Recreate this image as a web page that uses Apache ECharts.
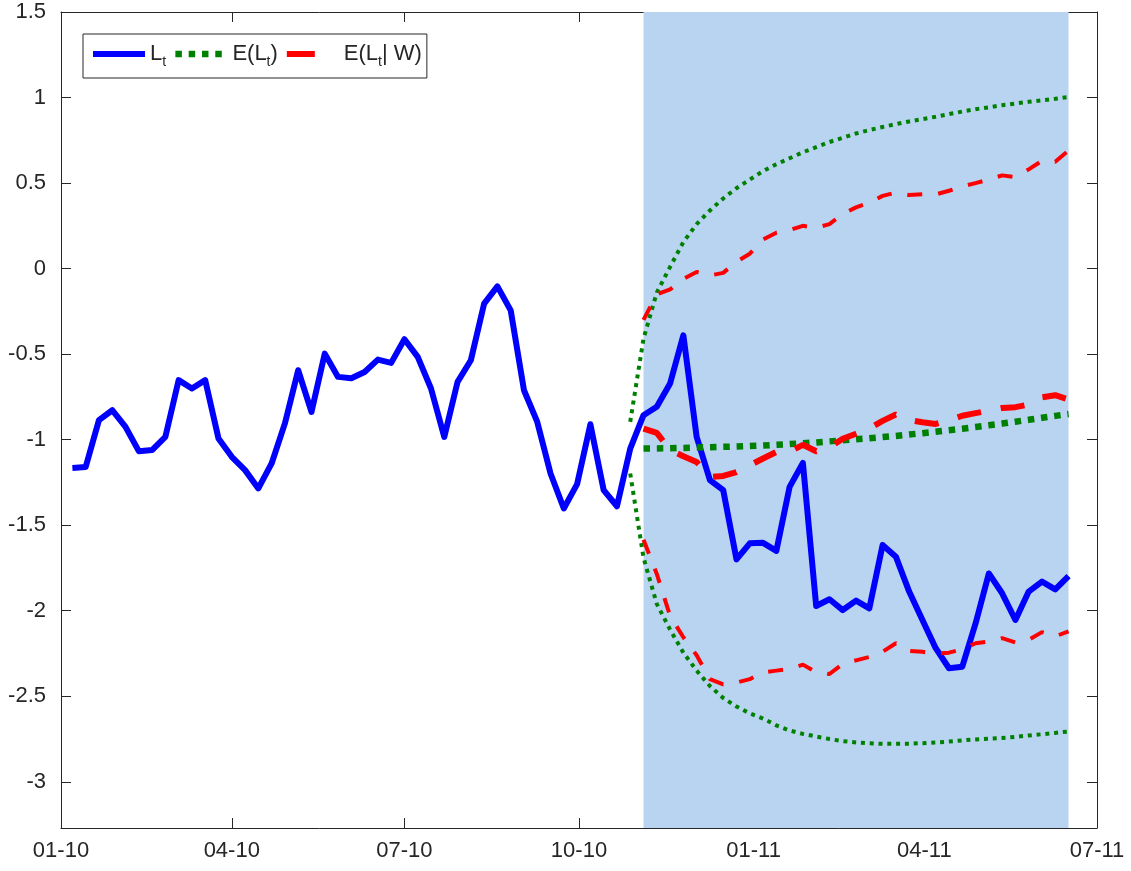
<!DOCTYPE html>
<html>
<head>
<meta charset="utf-8">
<script src="https://cdn.jsdelivr.net/npm/echarts@6/dist/echarts.min.js"></script>
<style>
  html, body { margin: 0; padding: 0; background: #ffffff; }
  #chart { width: 1131px; height: 871px; }
</style>
</head>
<body>
<div id="chart"></div>
<script>
// Weekly observations, first week ending 2010-01-07
const startDate = '2010-01-07';

// Observed series L_t (76 weekly values)
const levels = [
  -1.165, -1.16, -0.886, -0.828, -0.925, -1.067, -1.061, -0.984, -0.652, -0.701,
  -0.652, -0.993, -1.10, -1.178, -1.285, -1.139, -0.905, -0.594, -0.838, -0.497,
  -0.633, -0.641, -0.604, -0.532, -0.551, -0.413, -0.516, -0.701, -0.984, -0.662,
  -0.536, -0.205, -0.104, -0.244, -0.711, -0.896, -1.198, -1.402, -1.26, -0.91,
  -1.295, -1.389, -1.052, -0.857, -0.808, -0.672, -0.39, -0.984, -1.236, -1.295,
  -1.70, -1.606, -1.603, -1.65, -1.276, -1.136, -1.972, -1.933, -1.996, -1.941,
  -1.986, -1.616, -1.684, -1.888, -2.054, -2.219, -2.336, -2.327, -2.074, -1.782,
  -1.898, -2.054, -1.888, -1.83, -1.875, -1.797
];

// Week index where the forecast window begins, and where the E(L_t) bands begin
const forecastStart = 43;
const bandStart = 42;

// E(L_t): unconditional forecast mean (weeks 43..75)
const meanUncond = [
  -1.052, -1.051, -1.050, -1.048, -1.046, -1.044, -1.042, -1.040, -1.037, -1.034,
  -1.030, -1.026, -1.021, -1.016, -1.010, -1.004, -0.998, -0.992, -0.985, -0.978,
  -0.970, -0.962, -0.954, -0.945, -0.936, -0.926, -0.916, -0.906, -0.895, -0.884,
  -0.872, -0.861, -0.850
];
// E(L_t) band, upper and lower (weeks 42..75)
const upperUncond = [
  -0.896, -0.41, -0.14, 0.01, 0.155, 0.26, 0.34, 0.41, 0.47, 0.52,
  0.57, 0.61, 0.645, 0.68, 0.71, 0.74, 0.765, 0.79, 0.81, 0.828,
  0.845, 0.86, 0.874, 0.888, 0.903, 0.918, 0.932, 0.943, 0.955, 0.965,
  0.975, 0.984, 0.993, 1.003
];
const lowerUncond = [
  -1.198, -1.69, -1.96, -2.11, -2.245, -2.35, -2.44, -2.51, -2.56, -2.60,
  -2.63, -2.67, -2.70, -2.72, -2.735, -2.75, -2.762, -2.77, -2.775, -2.778,
  -2.778, -2.777, -2.774, -2.77, -2.765, -2.758, -2.752, -2.748, -2.744, -2.737,
  -2.729, -2.722, -2.714, -2.706
];

// E(L_t | W): conditional forecast mean and band (weeks 43..75)
const meanCond = [
  -0.935, -0.96, -1.06, -1.097, -1.13, -1.218, -1.212, -1.19, -1.15, -1.11,
  -1.072, -1.07, -1.03, -1.068, -1.045, -0.995, -0.965, -0.935, -0.89, -0.853,
  -0.885, -0.898, -0.908, -0.888, -0.86, -0.845, -0.83, -0.815, -0.81, -0.795,
  -0.752, -0.74, -0.765
];
const upperCond = [
  -0.30, -0.15, -0.122, -0.06, -0.02, -0.04, -0.025, 0.04, 0.087, 0.17,
  0.21, 0.225, 0.25, 0.239, 0.26, 0.32, 0.358, 0.385, 0.425, 0.445,
  0.43, 0.434, 0.434, 0.455, 0.48, 0.50, 0.52, 0.545, 0.535, 0.58,
  0.63, 0.625, 0.69
];
const lowerCond = [
  -1.585, -1.785, -2.03, -2.155, -2.26, -2.40, -2.43, -2.42, -2.40, -2.36,
  -2.35, -2.34, -2.315, -2.36, -2.37, -2.31, -2.29, -2.27, -2.24, -2.19,
  -2.235, -2.24, -2.25, -2.245, -2.225, -2.19, -2.18, -2.16, -2.185, -2.17,
  -2.125, -2.15, -2.12
];

// Axis ticks
const xTickDates = ['2010-01-01', '2010-04-01', '2010-07-01', '2010-10-01', '2011-01-01', '2011-04-01', '2011-07-01'];
const xTickLabels = ['01-10', '04-10', '07-10', '10-10', '01-11', '04-11', '07-11'];
const yTicks = [-3, -2.5, -2, -1.5, -1, -0.5, 0, 0.5, 1, 1.5];
const yMin = -3.27, yMax = 1.5;

// ---- build series data ----
const DAY = 86400000;
const toTime = s => { const p = s.split('-').map(Number); return Date.UTC(p[0], p[1] - 1, p[2]); };
const t0 = toTime(startDate);
const weekTime = k => t0 + k * 7 * DAY;
const pairs = (vals, first) => vals.map((v, i) => [weekTime(first + i), v]);

const xTickValues = xTickDates.map(toTime);
const xMin = xTickValues[0], xMax = xTickValues[xTickValues.length - 1];

const FONT = "'Liberation Sans', Arial, Helvetica, sans-serif";
const AX = '#262626';
const FS = 22;

const BLUE = '#0000ff', GREEN = '#008000', RED = '#ff0000';

// line styles shared by the plotted series and their legend samples
const styleObs = { color: BLUE, width: 6, join: 'round' };
const styleMeanU = { color: GREEN, width: 6.5, type: [6.5, 6.8], cap: 'butt' };
const styleBandU = { color: GREEN, width: 4, type: [4, 4.8], cap: 'butt' };
const styleMeanC = { color: RED, width: 6, type: [24, 20], cap: 'butt' };
const styleBandC = { color: RED, width: 4, type: [15, 16], cap: 'butt' };

const chart = echarts.init(document.getElementById('chart'), null, { renderer: 'canvas' });

const legendNames = {
  'Lt': '{n|L}{s|t}',
  'E(Lt)': '{n|E(L}{s|t}{n|)}',
  'E(Lt|W)': '{n|E(L}{s|t}{n|| W)}'
};

const xAxisCommon = {
  type: 'value', min: xMin, max: xMax,
  axisLine: { show: true, onZero: false, lineStyle: { color: AX, width: 1 } },
  axisTick: { show: true, inside: true, length: 10, customValues: xTickValues, lineStyle: { color: AX } },
  splitLine: { show: false }
};
const yAxisCommon = {
  type: 'value', min: yMin, max: yMax,
  axisLine: { show: true, onZero: false, lineStyle: { color: AX, width: 1 } },
  axisTick: { show: true, inside: true, length: 10, customValues: yTicks, lineStyle: { color: AX } },
  splitLine: { show: false }
};

const option = {
  animation: false,
  backgroundColor: '#ffffff',
  grid: { left: 61, right: 34, top: 12, bottom: 43, containLabel: false },
  xAxis: [
    Object.assign({}, xAxisCommon, {
      position: 'bottom',
      axisLabel: {
        show: true, customValues: xTickValues, margin: 12,
        color: AX, fontFamily: FONT, fontSize: FS,
        formatter: v => xTickLabels[xTickValues.indexOf(v)] || ''
      }
    }),
    Object.assign({}, xAxisCommon, { position: 'top', axisLabel: { show: false } })
  ],
  yAxis: [
    Object.assign({}, yAxisCommon, {
      position: 'left',
      axisLabel: {
        show: true, customValues: yTicks, margin: 15,
        color: AX, fontFamily: FONT, fontSize: FS,
        formatter: v => String(v)
      }
    }),
    Object.assign({}, yAxisCommon, { position: 'right', axisLabel: { show: false } })
  ],
  legend: {
    data: [
      { name: 'Lt', lineStyle: styleObs },
      { name: 'E(Lt)', lineStyle: styleMeanU },
      { name: 'E(Lt|W)', lineStyle: Object.assign({}, styleMeanC, { type: [28, 40] }) }
    ],
    left: 83, top: 34,
    orient: 'horizontal',
    itemWidth: 52, itemHeight: 14, itemGap: 6,
    padding: [9, 5, 9, 7],
    backgroundColor: '#ffffff',
    borderColor: AX, borderWidth: 1, borderRadius: 0,
    selectedMode: false,
    itemStyle: { opacity: 0 },
    formatter: name => legendNames[name],
    textStyle: {
      color: AX, fontFamily: FONT, fontSize: FS,
      rich: {
        n: { fontFamily: FONT, fontSize: FS, color: AX },
        s: { fontFamily: FONT, fontSize: 14, color: AX, padding: [16, 0, 0, 0] }
      }
    }
  },
  series: [
    {
      name: 'Lt', type: 'line', z: 2,
      data: pairs(levels, 0),
      showSymbol: false, symbol: 'none',
      lineStyle: styleObs,
      itemStyle: { color: BLUE },
      markArea: {
        silent: true,
        itemStyle: { color: '#b9d4f1', opacity: 1 },
        data: [[{ xAxis: weekTime(forecastStart) }, { xAxis: weekTime(levels.length - 1) }]]
      }
    },
    {
      name: 'E(Lt) upper', type: 'line', z: 3,
      data: pairs(upperUncond, bandStart),
      showSymbol: false, symbol: 'none',
      lineStyle: styleBandU
    },
    {
      name: 'E(Lt) lower', type: 'line', z: 3,
      data: pairs(lowerUncond, bandStart),
      showSymbol: false, symbol: 'none',
      lineStyle: styleBandU
    },
    {
      name: 'E(Lt)', type: 'line', z: 3,
      data: pairs(meanUncond, forecastStart),
      showSymbol: false, symbol: 'none',
      itemStyle: { color: GREEN },
      lineStyle: styleMeanU
    },
    {
      name: 'E(Lt|W) upper', type: 'line', z: 4,
      data: pairs(upperCond, forecastStart),
      showSymbol: false, symbol: 'none',
      lineStyle: styleBandC
    },
    {
      name: 'E(Lt|W) lower', type: 'line', z: 4,
      data: pairs(lowerCond, forecastStart),
      showSymbol: false, symbol: 'none',
      lineStyle: styleBandC
    },
    {
      name: 'E(Lt|W)', type: 'line', z: 4,
      data: pairs(meanCond, forecastStart),
      showSymbol: false, symbol: 'none',
      itemStyle: { color: RED },
      lineStyle: styleMeanC
    }
  ]
};

chart.setOption(option);
</script>
</body>
</html>
